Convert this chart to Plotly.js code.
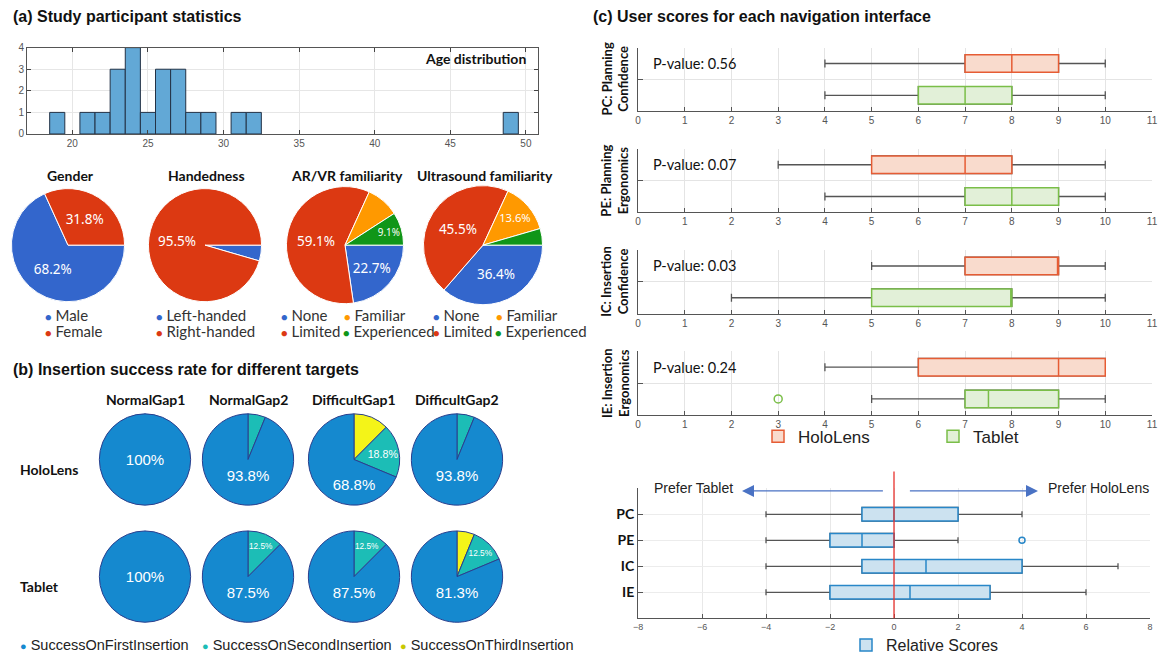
<!DOCTYPE html>
<html><head><meta charset="utf-8">
<script src="https://cdn.plot.ly/plotly-3.0.1.min.js"></script>
<style>body{margin:0;background:#fff}#chart{width:1165px;height:662px}</style>
</head><body><div id="chart"></div>
<script>
// ---------------- DATA ----------------
// (a) age histogram
const ageValues = [19, 21, 22, 23, 24, 25, 26, 27, 28, 29, 31, 32, 49];
const ageCounts = [1, 1, 1, 3, 4, 1, 3, 3, 1, 1, 1, 1, 1];
const ageTicks = [20, 25, 30, 35, 40, 45, 50];
const countTicks = [0, 1, 2, 3, 4];

// (a) pies
const pieTitles = ['Gender', 'Handedness', 'AR/VR familiarity', 'Ultrasound familiarity'];
const genderLabels = ['Male', 'Female'];
const genderValues = [68.2, 31.8];
const handLabels = ['Left-handed', 'Right-handed'];
const handValues = [4.5, 95.5];
const famLabels = ['None', 'Limited', 'Familiar', 'Experienced'];
const arvrValues = [22.7, 59.1, 9.1, 9.1];
const ultrasoundValues = [36.4, 45.5, 13.6, 4.5];
const genderShown = [true, true];
const handShown = [false, true];
const arvrShown = [true, true, false, true];
const ultrasoundShown = [true, true, true, false];

// (b) insertion success
const targets = ['NormalGap1', 'NormalGap2', 'DifficultGap1', 'DifficultGap2'];
const devices = ['HoloLens', 'Tablet'];
const attemptLabels = ['SuccessOnFirstInsertion', 'SuccessOnSecondInsertion', 'SuccessOnThirdInsertion'];
const holoFirst = [100, 93.8, 68.8, 93.8];
const holoSecond = [0, 6.2, 18.8, 6.2];
const holoThird = [0, 0, 12.5, 0];
const tabFirst = [100, 87.5, 87.5, 81.3];
const tabSecond = [0, 12.5, 12.5, 12.5];
const tabThird = [0, 0, 0, 6.2];

// (c) user scores
const metricNames = ['PC: Planning<br>Confidence', 'PE: Planning<br>Ergonomics', 'IC: Insertion<br>Confidence', 'IE: Insertion<br>Ergonomics'];
const pValues = ['0.56', '0.07', '0.03', '0.24'];
const scoreTicks = [0, 1, 2, 3, 4, 5, 6, 7, 8, 9, 10, 11];
const holoLow = [4, 3, 5, 4];
const holoQ1 = [7, 5, 7, 6];
const holoMedian = [8, 7, 9, 9];
const holoQ3 = [9, 8, 9, 10];
const holoHigh = [10, 10, 10, 10];
const tabLow = [4, 4, 2, 5];
const tabQ1 = [6, 7, 5, 7];
const tabMedian = [7, 8, 8, 7.5];
const tabQ3 = [8, 9, 8, 9];
const tabHigh = [10, 10, 10, 10];
const tabOutliers = [[], [], [], [3]];

// relative scores
const relLabels = ['PC', 'PE', 'IC', 'IE'];
const relLow = [-4, -4, -4, -4];
const relQ1 = [-1, -2, -1, -2];
const relMedian = [0, -1, 1, 0.5];
const relQ3 = [2, 0, 4, 3];
const relHigh = [4, 2, 7, 6];
const relOutliers = [[], [4], [], []];
const relTicks = [-8, -6, -4, -2, 0, 2, 4, 6, 8];

// ---------------- LAYOUT HELPERS ----------------
const W = 1165, H = 662;
const X = p => p / W;
const Y = p => 1 - p / H;
const SANS = 'Liberation Sans, Arial, sans-serif';
const CAL = 'Lato, Open Sans, sans-serif';

const traces = [];
const annotations = [];
const shapes = [];
function ann(text, x, y, o) {
  o = o || {};
  annotations.push(Object.assign({
    text: text, x: X(x), y: Y(y), xref: 'paper', yref: 'paper', showarrow: false,
    xanchor: 'left', yanchor: 'middle',
    font: {family: CAL, size: 14, color: '#222'}
  }, o));
}

// ---------------- (a) ----------------
ann('<b>(a) Study participant statistics</b>', 11, 17, {font: {family: SANS, size: 16, color: '#111'}});
ann('<b>(b) Insertion success rate for different targets</b>', 11, 372, {font: {family: SANS, size: 16, color: '#111'}});
ann('<b>(c) User scores for each navigation interface</b>', 591, 17, {font: {family: SANS, size: 16, color: '#111'}});

traces.push({
  type: 'bar', x: ageValues, y: ageCounts, width: 1, xaxis: 'x', yaxis: 'y',
  marker: {color: 'rgb(98,168,214)', line: {color: 'rgb(35,50,70)', width: 1}},
  showlegend: false, hoverinfo: 'skip'
});
ann('<b>Age distribution</b>', 528, 59, {xanchor: 'right', font: {family: CAL, size: 14, color: '#111'}});

const gColors = ['#3366CC', '#DC3912', '#FF9900', '#109618'];
const pieDefs = [
  {labels: genderLabels, values: genderValues, shown: genderShown, cx: 68, cy: 247, r: 57},
  {labels: handLabels, values: handValues, shown: handShown, cx: 205, cy: 247, r: 57},
  {labels: famLabels, values: arvrValues, shown: arvrShown, cx: 345, cy: 247, r: 59},
  {labels: famLabels, values: ultrasoundValues, shown: ultrasoundShown, cx: 483, cy: 247, r: 60}
];
pieDefs.forEach((p, i) => {
  traces.push({
    type: 'pie', labels: p.labels, values: p.values, sort: false, direction: 'clockwise', rotation: 90,
    domain: {x: [X(p.cx - p.r), X(p.cx + p.r)], y: [Y(p.cy + p.r), Y(p.cy - p.r)]},
    marker: {colors: gColors.slice(0, p.values.length), line: {color: '#ffffff', width: 1}},
    text: p.values.map((v, k) => p.shown[k] ? v.toFixed(1) + '%' : ''),
    textinfo: 'text', textposition: 'inside', insidetextorientation: 'horizontal',
    textfont: {family: 'Noto Sans, sans-serif', size: 13.5, color: '#fff'},
    showlegend: false, hoverinfo: 'skip'
  });
  ann('<b>' + pieTitles[i] + '</b>', p.cx + 2, 177, {xanchor: 'center', font: {family: CAL, size: 14, color: '#111'}});
});
function dot(c) { return '<span style="color:' + c + ';font-size:11px">●</span> '; }
const legFont = {family: CAL, size: 15, color: '#333'};
ann(dot(gColors[0]) + genderLabels[0], 43, 317, {font: legFont});
ann(dot(gColors[1]) + genderLabels[1], 43, 334, {font: legFont});
ann(dot(gColors[0]) + handLabels[0], 154, 317, {font: legFont});
ann(dot(gColors[1]) + handLabels[1], 154, 334, {font: legFont});
[279, 431].forEach(x0 => {
  ann(dot(gColors[0]) + famLabels[0], x0, 317, {font: legFont});
  ann(dot(gColors[2]) + famLabels[2], x0 + 63, 317, {font: legFont});
  ann(dot(gColors[1]) + famLabels[1], x0, 334, {font: legFont});
  ann(dot(gColors[3]) + famLabels[3], x0 + 62, 334, {font: legFont});
});

// ---------------- (b) ----------------
const bColors = {first: '#1589CF', second: '#1CBDB6', third: '#F4F418'};
const colCx = [145, 248, 354, 457];
const rowCy = [463, 581];
const bR = 46;
function pct(v) { return v === 100 ? '100%' : v.toFixed(1) + '%'; }
targets.forEach((t, j) => {
  ann('<b>' + t + '</b>', colCx[j], 403, {xanchor: 'center', font: {family: CAL, size: 14, color: '#111'}});
  [[holoFirst, holoSecond, holoThird], [tabFirst, tabSecond, tabThird]].forEach((d, i) => {
    const vals = [d[2][j], d[1][j], d[0][j]];
    traces.push({
      type: 'pie', labels: [attemptLabels[2], attemptLabels[1], attemptLabels[0]], values: vals,
      sort: false, direction: 'clockwise', rotation: 0,
      domain: {x: [X(colCx[j] - bR), X(colCx[j] + bR)], y: [Y(rowCy[i] + bR), Y(rowCy[i] - bR)]},
      marker: {colors: [bColors.third, bColors.second, bColors.first], line: {color: '#2B3F8E', width: 1}},
      text: ['', d[1][j] >= 10 ? pct(d[1][j]) : '', pct(d[0][j])],
      textinfo: 'text', textposition: 'inside', insidetextorientation: 'horizontal',
      textfont: {family: SANS, size: 15, color: '#fff'},
      showlegend: false, hoverinfo: 'skip'
    });
  });
});
devices.forEach((d, i) => ann('<b>' + d + '</b>', 18, rowCy[i] + 10, {font: {family: CAL, size: 14, color: '#111'}}));
const bLegFont = {family: SANS, size: 14.5, color: '#222'};
ann(dot(bColors.first) + attemptLabels[0], 18, 650, {font: bLegFont});
ann(dot(bColors.second) + attemptLabels[1], 200, 650, {font: bLegFont});
ann('<span style="color:#C8C800;font-size:11px">●</span> ' + attemptLabels[2], 398, 650, {font: bLegFont});

// ---------------- (c) ----------------
const holoLine = 'rgb(230,92,52)', holoFill = 'rgb(249,219,205)';
const tabLine = 'rgb(122,190,72)', tabFill = 'rgb(226,240,216)';
const whisk = '#555555';
const boxPanels = [{t: 48, b: 112}, {t: 150, b: 214}, {t: 252, b: 316}, {t: 354, b: 418}];
const cLeft = 638, cRight = 1152;
const layoutAxes = {};

function addBox(xa, ya, pos, lo, q1, med, q3, hi, lc, fc, width, name, showleg, legend) {
  traces.push({type: 'box', orientation: 'h', y: [pos], q1: [q1], median: [med], q3: [q3],
    lowerfence: [lo], upperfence: [hi], width: width, whiskerwidth: 0.45,
    line: {color: whisk, width: 1.3}, fillcolor: 'rgba(0,0,0,0)', boxpoints: false,
    xaxis: xa, yaxis: ya, showlegend: false, hoverinfo: 'skip'});
  traces.push({type: 'box', orientation: 'h', y: [pos], q1: [q1], median: [med], q3: [q3],
    lowerfence: [q1], upperfence: [q3], width: width, whiskerwidth: 0,
    line: {color: lc, width: 1.5}, fillcolor: fc, boxpoints: false, name: name,
    xaxis: xa, yaxis: ya, showlegend: showleg, legend: legend, hoverinfo: 'skip'});
}

boxPanels.forEach((p, k) => {
  const n = k + 2;
  const xa = 'x' + n, ya = 'y' + n;
  layoutAxes['xaxis' + n] = {
    domain: [X(cLeft), X(cRight)], anchor: ya, range: [0, 11], tickvals: scoreTicks,
    ticks: 'inside', ticklen: 4, tickcolor: '#555', showline: true, linecolor: '#555', linewidth: 1,
    showgrid: true, gridcolor: '#e4e4e4', zeroline: false,
    tickfont: {family: SANS, size: 10, color: '#555'}, fixedrange: true
  };
  layoutAxes['yaxis' + n] = {
    domain: [Y(p.b), Y(p.t)], anchor: xa, range: [0, 2], tickvals: [0, 1, 2], showticklabels: false,
    ticks: 'inside', ticklen: 5, tickcolor: '#555', showline: true, linecolor: '#555', linewidth: 1,
    showgrid: true, gridcolor: '#e4e4e4', zeroline: false, fixedrange: true
  };
  addBox(xa, ya, 1.5, holoLow[k], holoQ1[k], holoMedian[k], holoQ3[k], holoHigh[k], holoLine, holoFill, 0.55, 'HoloLens', k === 0, 'legend');
  addBox(xa, ya, 0.5, tabLow[k], tabQ1[k], tabMedian[k], tabQ3[k], tabHigh[k], tabLine, tabFill, 0.55, 'Tablet', k === 0, 'legend');
  if (tabOutliers[k].length) {
    traces.push({type: 'scatter', mode: 'markers', x: tabOutliers[k], y: tabOutliers[k].map(() => 0.5),
      marker: {symbol: 'circle-open', size: 8, color: tabLine, line: {width: 1.5}},
      xaxis: xa, yaxis: ya, showlegend: false, hoverinfo: 'skip'});
  }
  ann('P-value: ' + pValues[k], 651, p.t + 16, {font: {family: CAL, size: 14.5, color: '#111'}});
  ann('<b>' + metricNames[k] + '</b>', 615, (p.t + p.b) / 2, {xanchor: 'center', textangle: -90,
    font: {family: CAL, size: 13, color: '#111'}});
});

// relative scores
const relBoxLine = 'rgb(40,135,200)', relBoxFill = 'rgb(204,226,240)';
const relPos = [4, 3, 2, 1];
layoutAxes.xaxis6 = {
  domain: [X(638), X(1150)], anchor: 'y6', range: [-8, 8], tickvals: relTicks,
  ticks: 'inside', ticklen: 4, tickcolor: '#555', showline: true, linecolor: '#555',
  showgrid: true, gridcolor: '#e8e8e8', zeroline: false,
  tickfont: {family: SANS, size: 9, color: '#555'}, fixedrange: true
};
layoutAxes.yaxis6 = {
  domain: [Y(623), Y(492)], anchor: 'x6', range: [0, 5], tickvals: relPos,
  ticktext: relLabels.map(s => '<b>' + s + '</b>'),
  ticks: 'inside', ticklen: 5, tickcolor: '#555', showline: true, linecolor: '#555',
  showgrid: true, gridcolor: '#ececec', zeroline: false,
  tickfont: {family: CAL, size: 14, color: '#111'}, fixedrange: true
};
relLabels.forEach((l, k) => {
  addBox('x6', 'y6', relPos[k], relLow[k], relQ1[k], relMedian[k], relQ3[k], relHigh[k], relBoxLine, relBoxFill, 0.52, 'Relative Scores', k === 0, 'legend2');
  if (relOutliers[k].length) {
    traces.push({type: 'scatter', mode: 'markers', x: relOutliers[k], y: relOutliers[k].map(() => relPos[k]),
      marker: {symbol: 'circle-open', size: 6, color: relBoxLine, line: {width: 1.5}},
      xaxis: 'x6', yaxis: 'y6', showlegend: false, hoverinfo: 'skip'});
  }
});
shapes.push({type: 'line', xref: 'x6', yref: 'paper', x0: 0, x1: 0, y0: Y(623), y1: Y(475),
  line: {color: 'rgb(232,50,45)', width: 1.3}, layer: 'above'});
annotations.push({x: -4.75, y: 4.9, ax: -0.3, ay: 4.9, xref: 'x6', yref: 'y6', axref: 'x6', ayref: 'y6',
  text: '', showarrow: true, arrowhead: 2, arrowsize: 2, arrowwidth: 1.2, arrowcolor: '#4A72C4'});
annotations.push({x: 4.5, y: 4.9, ax: 0.45, ay: 4.9, xref: 'x6', yref: 'y6', axref: 'x6', ayref: 'y6',
  text: '', showarrow: true, arrowhead: 2, arrowsize: 2, arrowwidth: 1.2, arrowcolor: '#4A72C4'});
ann('Prefer Tablet', 735, 492, {xanchor: 'right', font: {family: SANS, size: 14, color: '#222'}});
ann('Prefer HoloLens', 1046, 492, {font: {family: SANS, size: 14, color: '#222'}});

// ---------------- LAYOUT ----------------
const layout = Object.assign({
  width: W, height: H, margin: {l: 0, r: 0, t: 0, b: 0},
  paper_bgcolor: '#fff', plot_bgcolor: '#fff', boxmode: 'overlay',
  xaxis: {
    domain: [X(27), X(538)], anchor: 'y', range: [17, 50.8], tickvals: ageTicks,
    ticks: 'inside', ticklen: 4, tickcolor: '#444', showline: true, mirror: 'ticks', linecolor: '#555',
    showgrid: true, gridcolor: '#e6e6e6', zeroline: false,
    tickfont: {family: SANS, size: 10, color: '#555'}, fixedrange: true
  },
  yaxis: {
    domain: [Y(135), Y(48)], anchor: 'x', range: [0, 4], tickvals: countTicks,
    ticks: 'inside', ticklen: 4, tickcolor: '#444', showline: true, mirror: 'ticks', linecolor: '#555',
    showgrid: true, gridcolor: '#e6e6e6', zeroline: false,
    tickfont: {family: SANS, size: 10, color: '#555'}, fixedrange: true
  },
  legend: {orientation: 'h', x: X(758), y: Y(440), xanchor: 'left', yanchor: 'middle',
    font: {family: SANS, size: 17, color: '#222'}, entrywidth: 130, entrywidthmode: 'pixels',
    bgcolor: 'rgba(0,0,0,0)', traceorder: 'normal'},
  legend2: {orientation: 'h', x: X(846), y: Y(650), xanchor: 'left', yanchor: 'middle',
    font: {family: SANS, size: 16, color: '#222'}, bgcolor: 'rgba(0,0,0,0)'},
  annotations: annotations, shapes: shapes
}, layoutAxes);

Plotly.newPlot('chart', traces, layout, {displayModeBar: false, staticPlot: true});
</script>
</body></html>
